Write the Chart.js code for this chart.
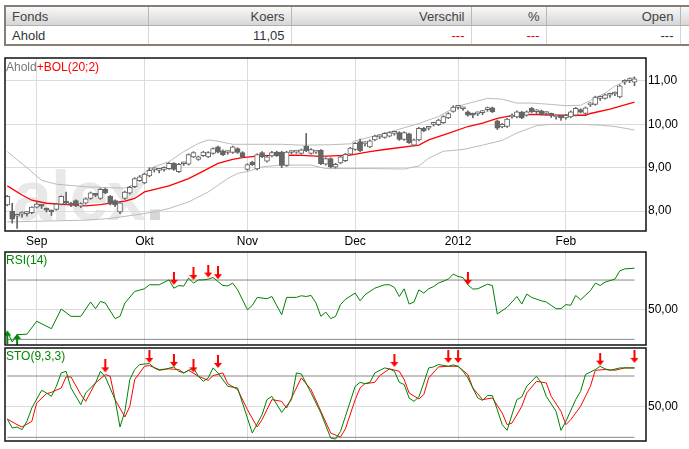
<!DOCTYPE html>
<html>
<head>
<meta charset="utf-8">
<script src="https://cdn.jsdelivr.net/npm/chart.js@4.4.1/dist/chart.umd.min.js"></script>
<style>
  html, body { margin: 0; padding: 0; background: #fff; }
  body { width: 689px; height: 449px; position: relative; overflow: hidden; font-family: 'Liberation Sans', Arial, sans-serif; }
  #quote { position: absolute; left: 4px; top: 5px; width: 760px; table-layout: fixed; border-collapse: collapse;
           font-size: 13px; border-top: 2px solid #877d75; border-bottom: 2px solid #877d75; border-left: 2px solid #877d75; }
  #quote th, #quote td { height: 18px; padding: 0 6px; text-align: right; white-space: nowrap; }
  #quote th { font-weight: normal; color: #444; background: linear-gradient(#f8f8f8, #d6d6d6); border-right: 1px solid #b8b8b8; border-bottom: 1px solid #b0b0b0; }
  #quote td { color: #333; background: #fff; border-right: 1px solid #d6d6d6; }
  #quote .l { text-align: left; }
  #quote .red { color: #e00000; }
  canvas { position: absolute; left: 0; }
  .title { position: absolute; left: 6px; font-size: 12px; line-height: 14px; white-space: nowrap; }
  #watermark { position: absolute; left: 13px; top: 161px; font-size: 70px; line-height: 70px; font-weight: bold; color: #e8e8e8; letter-spacing: -1px; }
  #watermark span { color: #d6d6d6; }
</style>
</head>
<body>
<table id="quote">
  <colgroup><col style="width:143px"><col style="width:143px"><col style="width:180px"><col style="width:75px"><col style="width:134px"><col style="width:85px"></colgroup>
  <tr><th class="l">Fonds</th><th>Koers</th><th>Verschil</th><th>%</th><th>Open</th><th></th></tr>
  <tr><td class="l">Ahold</td><td>11,05</td><td class="red">---</td><td class="red">---</td><td>---</td><td></td></tr>
</table>

<div id="watermark">alex<span>.</span></div>
<canvas id="priceChart" width="689" height="199" style="top:50px"></canvas>
<div class="title" style="top:60px"><span style="color:#777">Ahold</span><span style="color:#f00">+BOL(20;2)</span></div>
<canvas id="rsiChart" width="689" height="97" style="top:249px"></canvas>
<div class="title" style="top:253px;color:#080">RSI(14)</div>
<canvas id="stoChart" width="689" height="103" style="top:346px"></canvas>
<div class="title" style="top:349px;color:#080">STO(9,3,3)</div>

<script>
// month ticks (index of first trading day of the month)
const monthIdx = [6, 28, 49, 71, 92, 114];
const monthLabels = ['Sep', 'Okt', 'Nov', 'Dec', '2012', 'Feb'];
const priceTicks = [8, 9, 10, 11];

// daily candles, 24 aug 2011 .. 21 feb 2012
const opens = [8.14, 8.00, 7.88, 7.93, 7.94, 7.96, 8.09, 8.12, 8.03, 7.99,
  8.04, 8.16, 8.19, 8.15, 8.24, 8.11, 8.18, 8.29, 8.38, 8.29,
  8.50, 8.34, 8.24, 7.98, 8.29, 8.41, 8.56, 8.70, 8.65, 8.81,
  8.95, 8.94, 8.96, 8.98, 9.10, 8.91, 9.09, 9.08, 9.25, 9.19,
  9.28, 9.25, 9.33, 9.48, 9.39, 9.35, 9.35, 9.44, 9.35, 8.96,
  9.13, 8.97, 9.35, 9.15, 9.27, 9.36, 9.36, 9.05, 9.35, 9.36,
  9.33, 9.50, 9.33, 9.36, 9.40, 9.08, 9.21, 9.01, 9.11, 9.16,
  9.31, 9.42, 9.60, 9.55, 9.48, 9.64, 9.71, 9.70, 9.73, 9.79,
  9.81, 9.65, 9.78, 9.52, 9.64, 9.91, 9.91, 10.00, 9.99, 10.04,
  10.15, 10.30, 10.39, 10.36, 10.29, 10.22, 10.24, 10.27, 10.34, 10.38,
  10.08, 9.94, 9.95, 10.17, 10.17, 10.28, 10.21, 10.37, 10.29, 10.31,
  10.25, 10.22, 10.17, 10.16, 10.15, 10.17, 10.21, 10.34, 10.25, 10.45,
  10.46, 10.60, 10.60, 10.67, 10.70, 10.63, 10.97, 11.01, 10.97];
const highs = [8.36, 8.18, 7.93, 7.98, 7.99, 8.10, 8.20, 8.15, 8.07, 8.02,
  8.18, 8.35, 8.44, 8.20, 8.26, 8.19, 8.30, 8.44, 8.40, 8.52,
  8.53, 8.36, 8.26, 8.21, 8.46, 8.57, 8.77, 8.82, 8.87, 9.00,
  9.00, 8.98, 9.02, 9.12, 9.12, 9.10, 9.13, 9.32, 9.37, 9.27,
  9.38, 9.37, 9.46, 9.50, 9.41, 9.39, 9.50, 9.46, 9.37, 9.09,
  9.15, 9.32, 9.37, 9.27, 9.38, 9.38, 9.38, 9.38, 9.39, 9.40,
  9.43, 9.79, 9.44, 9.40, 9.42, 9.23, 9.23, 9.10, 9.27, 9.33,
  9.47, 9.58, 9.66, 9.60, 9.64, 9.75, 9.76, 9.81, 9.83, 9.83,
  9.83, 9.83, 9.80, 9.66, 9.93, 9.93, 9.95, 10.05, 10.12, 10.20,
  10.27, 10.43, 10.43, 10.40, 10.31, 10.26, 10.29, 10.32, 10.40, 10.40,
  10.10, 10.02, 10.14, 10.24, 10.31, 10.30, 10.31, 10.39, 10.34, 10.33,
  10.29, 10.26, 10.22, 10.20, 10.23, 10.31, 10.39, 10.36, 10.40, 10.50,
  10.65, 10.65, 10.70, 10.72, 10.75, 10.91, 11.03, 11.07, 11.09];
const lows = [8.12, 7.72, 7.60, 7.86, 7.88, 7.94, 8.07, 8.06, 7.98, 7.90,
  8.02, 8.14, 8.15, 8.10, 8.10, 8.08, 8.16, 8.27, 8.33, 8.27,
  8.40, 8.14, 8.10, 7.94, 8.27, 8.39, 8.54, 8.68, 8.63, 8.79,
  8.90, 8.88, 8.92, 8.96, 8.94, 8.89, 9.05, 9.06, 9.23, 9.17,
  9.26, 9.23, 9.31, 9.34, 9.28, 9.31, 9.33, 9.33, 9.23, 8.94,
  9.05, 8.95, 9.23, 9.13, 9.25, 9.26, 9.00, 9.03, 9.32, 9.33,
  9.31, 9.37, 9.31, 9.33, 9.07, 9.06, 9.00, 8.99, 9.09, 9.14,
  9.29, 9.40, 9.37, 9.50, 9.46, 9.62, 9.67, 9.68, 9.71, 9.75,
  9.63, 9.63, 9.56, 9.50, 9.62, 9.83, 9.87, 9.96, 9.97, 10.02,
  10.13, 10.28, 10.35, 10.32, 10.19, 10.15, 10.20, 10.22, 10.30, 10.27,
  9.88, 9.92, 9.93, 10.14, 10.15, 10.13, 10.19, 10.27, 10.25, 10.21,
  10.21, 10.16, 10.12, 10.09, 10.12, 10.15, 10.19, 10.26, 10.23, 10.41,
  10.44, 10.55, 10.58, 10.62, 10.66, 10.61, 10.92, 10.96, 10.89];
const closes = [8.34, 7.81, 7.90, 7.94, 7.95, 8.09, 8.16, 8.11, 8.02, 7.98,
  8.16, 8.34, 8.18, 8.14, 8.14, 8.17, 8.28, 8.42, 8.36, 8.50,
  8.42, 8.16, 8.14, 8.19, 8.44, 8.55, 8.75, 8.79, 8.85, 8.94,
  8.96, 8.95, 8.97, 9.10, 8.96, 9.08, 9.10, 9.30, 9.35, 9.25,
  9.36, 9.35, 9.44, 9.36, 9.30, 9.36, 9.48, 9.35, 9.25, 9.07,
  9.07, 9.30, 9.25, 9.25, 9.35, 9.28, 9.05, 9.36, 9.36, 9.37,
  9.41, 9.39, 9.42, 9.37, 9.09, 9.21, 9.02, 9.08, 9.25, 9.31,
  9.45, 9.56, 9.39, 9.56, 9.62, 9.73, 9.72, 9.79, 9.81, 9.80,
  9.65, 9.81, 9.58, 9.64, 9.91, 9.85, 9.92, 10.01, 10.10, 10.18,
  10.25, 10.40, 10.40, 10.37, 10.21, 10.21, 10.25, 10.28, 10.35, 10.29,
  9.91, 10.00, 10.12, 10.18, 10.29, 10.15, 10.29, 10.29, 10.30, 10.23,
  10.26, 10.21, 10.18, 10.15, 10.21, 10.29, 10.37, 10.28, 10.38, 10.46,
  10.63, 10.61, 10.68, 10.68, 10.71, 10.89, 10.98, 11.02, 11.05];

// bollinger (20;2): [day index, value]
const bolUpper = [[0, 9.37], [4, 9.00], [7, 8.71], [10, 8.62], [16, 8.56], [20, 8.54], [24, 8.53], [26, 8.62], [27, 8.79],
  [29, 8.98], [33, 9.14], [36, 9.37], [39, 9.56], [41, 9.64], [43, 9.61], [46, 9.54], [49, 9.54], [56, 9.54], [60, 9.52],
  [66, 9.53], [70, 9.55], [71, 9.62], [77, 9.79], [84, 10.02], [88, 10.18], [91, 10.37], [93, 10.45], [98, 10.60],
  [101, 10.58], [104, 10.49], [107, 10.49], [111, 10.46], [114, 10.43], [117, 10.44], [119, 10.55], [122, 10.72],
  [124, 10.88], [128, 11.10]];
const bolMiddle = [[0, 8.58], [3, 8.37], [5, 8.25], [8, 8.18], [12, 8.15], [16, 8.12], [19, 8.15], [22, 8.20], [24, 8.23],
  [26, 8.29], [28, 8.44], [33, 8.58], [37, 8.75], [40, 8.92], [43, 9.10], [46, 9.19], [48, 9.23], [52, 9.28], [59, 9.29],
  [64, 9.26], [70, 9.29], [74, 9.37], [77, 9.42], [84, 9.52], [86, 9.64], [90, 9.79], [94, 9.95], [97, 10.03],
  [100, 10.14], [103, 10.20], [107, 10.23], [112, 10.21], [118, 10.21], [119, 10.25], [123, 10.35], [128, 10.51]];
const bolLower = [[0, 7.75], [16, 7.79], [21, 7.83], [26, 7.91], [30, 7.98], [33, 8.06], [37, 8.21], [41, 8.44], [45, 8.75],
  [47, 8.87], [49, 8.91], [52, 9.02], [56, 9.06], [62, 9.06], [65, 8.98], [74, 8.98], [81, 8.97], [84, 9.04], [86, 9.22],
  [89, 9.38], [93, 9.42], [97, 9.52], [101, 9.63], [104, 9.80], [108, 9.97], [111, 10.00], [117, 10.00], [121, 9.98],
  [124, 9.95], [128, 9.87]];

// RSI(14)
const rsiLine = [[0, 35.5], [1, 28.2], [2, 33.2], [3, 33.3], [4, 33.5], [6, 42.2], [9, 37.2], [11, 50.5], [13, 45.5], [15, 45.5],
  [17, 55.2], [18, 50.7], [19, 55.6], [20, 54.5], [22, 44.0], [23, 45.5], [24, 54.5], [26, 62.3], [28, 64.1], [29, 66.8],
  [31, 66.8], [33, 70.1], [34, 64.5], [35, 66.3], [36, 65.9], [37, 71.3], [38, 67.9], [39, 70.1], [40, 70.1], [41, 70.6],
  [42, 71.7], [43, 69.0], [44, 66.3], [45, 66.1], [46, 67.9], [47, 63.4], [49, 50.0], [50, 52.9], [51, 58.3], [53, 57.4],
  [54, 58.9], [56, 46.6], [57, 58.3], [59, 58.3], [60, 59.4], [61, 58.9], [62, 59.6], [63, 54.5], [64, 45.5], [65, 48.4],
  [66, 44.0], [67, 45.5], [68, 53.4], [69, 57.0], [71, 61.2], [72, 56.0], [73, 60.1], [75, 64.5], [77, 66.8], [78, 66.8],
  [79, 65.0], [80, 58.9], [81, 64.1], [82, 53.8], [83, 55.2], [84, 63.4], [85, 61.2], [86, 64.1], [87, 65.6], [88, 67.9],
  [90, 70.6], [91, 74.0], [92, 72.4], [93, 71.7], [94, 66.8], [95, 63.9], [96, 64.1], [98, 67.2], [99, 66.3], [100, 47.1],
  [102, 51.6], [103, 55.2], [104, 58.9], [105, 53.8], [106, 60.5], [107, 58.3], [109, 56.0], [110, 55.2], [111, 52.9],
  [112, 50.7], [113, 50.7], [114, 53.4], [115, 53.0], [116, 59.6], [117, 56.7], [119, 62.8], [120, 67.9], [121, 66.3],
  [122, 68.6], [124, 70.6], [125, 76.2], [126, 77.5], [128, 78.0]];
const rsiLevels = [30, 70];
const rsiSell = [[34, 66.8], [38, 70.1], [41, 71.7], [43, 70.6], [94, 66.8]];
const rsiBuy = [[0, 35.9], [2, 33.7]];

// STO(9,3,3): %K green, %D red
const stoK = [[0, 37.9], [1, 29.1], [2, 30.1], [3, 27.5], [4, 35.6], [5, 48.7], [7, 66.0], [8, 63.4], [9, 60.1], [10, 69.9],
  [11, 83.0], [12, 84.6], [13, 68.3], [15, 52.0], [16, 63.4], [18, 73.2], [19, 84.6], [20, 79.1], [22, 56.9], [23, 30.1],
  [24, 45.4], [25, 76.5], [26, 86.3], [27, 91.2], [29, 92.2], [30, 87.9], [31, 85.6], [32, 86.3], [34, 88.9], [35, 84.6],
  [36, 83.0], [38, 87.9], [39, 79.7], [40, 74.8], [41, 78.1], [42, 87.9], [43, 83.0], [45, 69.9], [47, 68.3], [48, 53.6],
  [50, 24.2], [52, 42.2], [53, 56.9], [54, 60.1], [56, 44.4], [58, 56.9], [59, 83.0], [60, 82.0], [62, 63.4], [64, 43.8],
  [66, 19.3], [67, 18.3], [68, 25.8], [69, 40.5], [71, 69.9], [72, 73.8], [73, 72.5], [74, 73.8], [75, 83.0], [77, 87.9],
  [78, 86.9], [79, 84.6], [80, 73.8], [81, 71.6], [82, 58.5], [83, 55.2], [84, 59.5], [85, 73.2], [86, 87.9], [87, 88.9],
  [88, 91.2], [90, 89.5], [91, 90.9], [92, 89.5], [93, 84.6], [94, 78.1], [96, 58.5], [97, 56.2], [98, 60.8], [99, 60.8],
  [100, 47.1], [101, 32.4], [102, 26.8], [103, 42.2], [104, 56.9], [105, 59.5], [106, 69.9], [107, 74.8], [108, 79.7],
  [109, 73.2], [110, 60.1], [112, 45.4], [113, 26.8], [114, 35.6], [116, 56.9], [117, 65.0], [118, 81.4], [120, 86.3],
  [121, 89.5], [122, 87.0], [123, 85.6], [125, 87.9], [128, 87.9]];
const stoD = [[0, 37.9], [2, 32.4], [3, 30.1], [5, 35.6], [6, 53.6], [8, 62.7], [9, 64.0], [11, 68.3], [12, 79.1], [13, 79.1],
  [15, 61.8], [16, 55.2], [18, 73.2], [20, 81.4], [21, 79.7], [22, 56.9], [24, 39.9], [25, 50.3], [26, 76.5], [28, 89.5],
  [29, 90.2], [31, 86.3], [33, 87.0], [35, 86.3], [36, 83.0], [37, 85.6], [39, 79.7], [41, 75.8], [42, 80.4], [44, 83.0],
  [45, 72.5], [47, 66.7], [49, 47.1], [51, 30.1], [52, 37.3], [54, 56.9], [56, 55.2], [57, 48.7], [58, 58.5], [60, 78.1],
  [62, 66.7], [64, 45.4], [66, 24.2], [68, 20.3], [69, 28.3], [71, 56.9], [72, 68.3], [73, 72.5], [75, 73.8], [76, 80.4],
  [78, 87.0], [80, 84.6], [81, 76.5], [82, 63.4], [84, 57.5], [85, 61.8], [86, 78.1], [88, 88.9], [90, 89.5], [92, 89.5],
  [94, 81.4], [95, 68.3], [97, 56.9], [99, 58.5], [101, 43.8], [102, 32.4], [103, 34.0], [105, 50.3], [106, 63.4],
  [108, 74.8], [110, 73.2], [111, 60.1], [113, 45.4], [114, 32.4], [115, 37.3], [117, 50.3], [119, 69.9], [120, 85.6],
  [122, 86.3], [124, 85.6], [126, 87.9], [128, 87.9]];
const stoLevels = [20, 80];
const stoSell = [[20, 83.6], [29, 92.8], [34, 88.9], [38, 83.6], [43, 87.9], [79, 88.9], [90, 92.8], [92, 92.8], [121, 90.2], [128, 92.8]];

const lastIdx = closes.length - 1;

Chart.defaults.font.family = "'Liberation Sans', Arial, sans-serif";
Chart.defaults.font.size = 12;
Chart.defaults.color = '#000';

// black box round the plot area
const frame = {
  id: 'frame',
  afterDraw(chart) {
    const a = chart.chartArea, c = chart.ctx;
    c.save();
    c.strokeStyle = '#111';
    c.lineWidth = 1.5;
    c.strokeRect(a.left, a.top, a.right - a.left, a.bottom - a.top);
    c.restore();
  }
};

// signal arrow as point image, tip in the centre
function makeArrow(color, up) {
  const c = document.createElement('canvas');
  c.width = 8; c.height = 26;
  const g = c.getContext('2d');
  g.fillStyle = color;
  if (up) { g.translate(0, 26); g.scale(1, -1); }
  g.fillRect(3, 0, 2, 9);
  g.beginPath(); g.moveTo(0, 8); g.lineTo(8, 8); g.lineTo(4, 13); g.closePath(); g.fill();
  return c;
}
const redDown = makeArrow('#f00', false);
const greenUp = makeArrow('#080', true);

const toXY = pairs => pairs.map(p => ({ x: p[0], y: p[1] }));

function lineSet(pairs, color, width, order) {
  return { type: 'line', data: toXY(pairs), borderColor: color, borderWidth: width,
           pointRadius: 0, tension: 0, fill: false, order: order };
}
function levelSet(level) {
  return lineSet([[0, level], [lastIdx, level]], '#888', 1, 5);
}
function arrowSet(pairs, img) {
  return { type: 'line', data: toXY(pairs), showLine: false, pointStyle: img, pointRadius: 4, order: 0 };
}

function xAxis(showLabels) {
  return {
    type: 'linear', min: -0.47, max: 130.35, offset: false,
    afterBuildTicks: axis => { axis.ticks = monthIdx.map(v => ({ value: v })); },
    grid: { color: '#dcdcdc', drawTicks: false, offset: false },
    border: { display: false },
    ticks: { display: showLabels, padding: 3, maxRotation: 0, autoSkip: false,
             callback: v => monthLabels[monthIdx.indexOf(v)] },
    afterFit: axis => { axis.height = showLabels ? 18 : 0; axis.paddingLeft = 0; axis.paddingRight = 0; }
  };
}
function yAxis(min, max, ticks) {
  return {
    position: 'right', min: min, max: max,
    afterBuildTicks: axis => { axis.ticks = ticks.map(v => ({ value: v })); },
    grid: { color: '#dcdcdc', drawTicks: false },
    border: { display: false },
    ticks: { padding: 2, callback: v => v.toFixed(2).replace('.', ',') },
    afterFit: axis => { axis.width = 43; axis.paddingTop = 0; axis.paddingBottom = 0; }
  };
}
function options(padding, showLabels, yMin, yMax, yTicks) {
  return {
    responsive: false, animation: false, events: [],
    layout: { padding: padding, autoPadding: false },
    plugins: { legend: { display: false }, tooltip: { enabled: false } },
    scales: { x: xAxis(showLabels), y: yAxis(yMin, yMax, yTicks) }
  };
}

const days = closes.map((c, i) => i);

new Chart(document.getElementById('priceChart'), {
  type: 'bar',
  data: {
    datasets: [
      lineSet(bolUpper, '#bbb', 1, 3),
      lineSet(bolLower, '#bbb', 1, 3),
      lineSet(bolMiddle, '#f00', 1.3, 3),
      { data: days.map(i => ({ x: i, y: [lows[i], highs[i]] })), backgroundColor: '#666',
        barThickness: 1, grouped: false, order: 2 },
      { data: days.map(i => ({ x: i, y: [opens[i], closes[i]] })),
        backgroundColor: days.map(i => closes[i] >= opens[i] ? '#fff' : '#666'),
        borderColor: '#666', borderWidth: 1, borderSkipped: false,
        barThickness: 5, minBarLength: 2, grouped: false, order: 1 }
    ]
  },
  options: options({ left: 5, top: 8, right: 0, bottom: 0 }, true, 7.54, 11.53, priceTicks),
  plugins: [frame]
});

new Chart(document.getElementById('rsiChart'), {
  type: 'line',
  data: {
    datasets: [
      levelSet(rsiLevels[0]), levelSet(rsiLevels[1]),
      lineSet(rsiLine, '#008000', 1, 1),
      arrowSet(rsiSell, redDown),
      arrowSet(rsiBuy, greenUp)
    ]
  },
  options: options({ left: 5, top: 3, right: 0, bottom: 1 }, false, 26.2, 88.9, [50]),
  plugins: [frame]
});

new Chart(document.getElementById('stoChart'), {
  type: 'line',
  data: {
    datasets: [
      levelSet(stoLevels[0]), levelSet(stoLevels[1]),
      lineSet(stoD, '#f00', 1, 2),
      lineSet(stoK, '#008000', 1, 1),
      arrowSet(stoSell, redDown)
    ]
  },
  options: options({ left: 5, top: 2, right: 0, bottom: 8 }, false, 16.4, 107.4, [50]),
  plugins: [frame]
});
</script>
</body>
</html>
